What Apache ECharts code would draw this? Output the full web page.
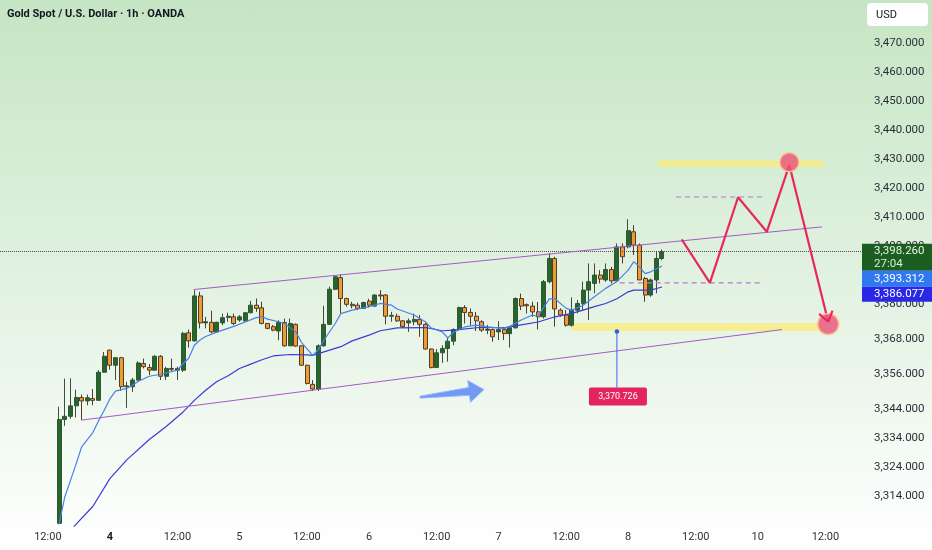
<!DOCTYPE html>
<html><head><meta charset="utf-8">
<script src="https://cdn.jsdelivr.net/npm/echarts@6/dist/echarts.min.js"></script>
<style>
html,body{margin:0;padding:0;}
body{width:932px;height:550px;overflow:hidden;background:linear-gradient(to bottom,#c6e5c4 0%,#d6edd5 30%,#e7f4e6 60%,#f6fbf6 85%,#ffffff 100%);}
#c{width:932px;height:550px;}
</style></head><body><div id="c"></div>
<script>
// ---------- time axis ----------
const categoryCount = 153;          // hourly slots shown on the time axis (incl. future space)
const candleOffset = 10;            // slot of the first candle
const xTickIndex = [8, 19, 31, 42, 54, 65, 77, 88, 100, 111, 123, 134, 146];
const xTickText  = ['12:00','4','12:00','5','12:00','6','12:00','7','12:00','8','12:00','10','12:00'];
const xTickBold  = [false,true,false,false,false,false,false,false,false,false,false,false,false];

// ---------- price axis ----------
const yTicks = [3470,3460,3450,3440,3430,3420,3410,3400,3380,3368,3356,3344,3334,3324,3314];

// ---------- candles (hourly) ----------
const opens = [3304.6,3340.4,3341.5,3345.1,3348.0,3346.8,3347.6,3347.0,3356.7,3364.3,
3359.1,3361.7,3351.7,3351.7,3354.0,3359.7,3358.3,3357.4,3362.2,3355.3,
3358.0,3357.4,3357.4,3370.3,3367.5,3383.0,3373.7,3373.9,3370.6,3373.7,
3375.6,3375.8,3374.7,3374.4,3377.2,3379.8,3378.9,3373.5,3372.4,3370.9,
3373.8,3365.8,3373.2,3365.8,3359.1,3352.5,3350.9,3365.8,3373.2,3385.3,
3389.3,3382.1,3380.1,3379.8,3378.7,3381.2,3379.5,3383.3,3383.3,3376.0,
3376.0,3374.4,3373.7,3374.1,3374.9,3373.2,3364.7,3358.3,3363.4,3364.9,
3367.4,3371.4,3379.0,3377.3,3376.0,3374.1,3371.2,3371.4,3370.6,3371.4,
3370.0,3372.0,3382.1,3380.0,3379.5,3377.5,3375.8,3387.9,3395.9,3378.1,
3376.4,3372.9,3378.1,3380.4,3385.0,3387.3,3390.2,3388.5,3392.1,3388.2,
3399.9,3399.9,3405.1,3400.5,3389.0,3383.3,3388.5,3395.9];
const closes = [3340.4,3341.5,3345.1,3348.0,3346.8,3347.9,3347.0,3356.7,3362.2,3359.1,
3361.7,3351.7,3352.0,3354.0,3359.9,3358.6,3357.4,3362.2,3355.3,3358.0,
3357.7,3358.0,3370.1,3367.5,3383.0,3373.7,3374.1,3370.6,3373.9,3375.5,
3376.0,3373.5,3375.8,3377.2,3379.8,3378.7,3373.5,3371.8,3371.2,3373.8,
3365.8,3373.5,3365.7,3359.1,3352.8,3350.9,3365.8,3373.2,3385.3,3389.6,
3382.1,3380.1,3379.6,3378.7,3380.7,3379.8,3383.3,3383.0,3376.0,3376.3,
3374.4,3372.4,3374.4,3374.9,3373.2,3364.7,3358.3,3363.4,3364.9,3367.4,
3371.4,3379.0,3377.3,3376.0,3374.4,3371.2,3371.6,3368.9,3371.4,3370.0,
3372.0,3382.1,3379.5,3379.6,3377.5,3375.8,3387.9,3395.9,3378.5,3376.4,
3372.9,3378.1,3380.4,3385.0,3387.9,3390.2,3388.8,3392.1,3388.2,3399.9,
3396.5,3405.5,3400.5,3388.5,3383.3,3388.5,3395.9,3398.26];
const lows = [3304.3,3338.2,3340.7,3341.1,3340.2,3345.3,3345.3,3347.0,3356.5,3357.6,
3354.0,3350.3,3344.4,3349.9,3353.7,3358.0,3355.7,3357.2,3354.0,3354.0,
3356.8,3354.0,3356.8,3365.2,3367.3,3371.8,3371.8,3370.1,3370.4,3372.9,
3374.1,3372.9,3374.1,3374.1,3377.0,3377.5,3373.2,3371.5,3370.8,3367.7,
3365.5,3365.7,3365.5,3358.9,3352.5,3350.2,3350.2,3365.5,3373.0,3385.0,
3377.0,3379.3,3378.7,3378.1,3378.5,3379.0,3379.2,3381.6,3373.2,3374.1,
3374.1,3372.1,3370.6,3372.9,3368.9,3364.5,3358.0,3358.3,3359.9,3360.3,
3366.0,3371.2,3373.5,3372.9,3370.9,3370.6,3369.8,3367.2,3367.8,3367.8,
3365.2,3371.8,3378.1,3376.9,3375.8,3371.4,3375.2,3387.3,3372.4,3375.8,
3372.4,3372.4,3377.0,3378.1,3374.7,3383.9,3387.3,3387.9,3387.3,3387.9,
3394.2,3399.4,3397.1,3388.5,3381.0,3382.7,3383.9,3395.3];
const highs = [3344.8,3354.5,3354.6,3350.7,3349.0,3349.0,3350.9,3357.4,3363.7,3364.5,
3361.9,3362.0,3353.4,3354.8,3360.5,3361.4,3359.5,3362.6,3362.6,3358.6,
3361.4,3358.6,3370.6,3371.4,3385.0,3384.4,3375.8,3377.9,3374.1,3376.9,
3377.2,3376.9,3376.4,3377.5,3381.3,3382.1,3381.0,3373.6,3373.0,3374.6,
3375.2,3375.2,3373.5,3366.0,3359.3,3354.0,3366.3,3379.6,3386.2,3390.2,
3390.4,3382.4,3381.0,3380.7,3381.0,3382.0,3383.6,3385.0,3383.6,3377.5,
3376.9,3374.7,3375.2,3376.9,3376.4,3373.7,3364.9,3364.7,3366.0,3368.7,
3371.8,3379.3,3379.8,3378.7,3377.5,3374.6,3373.0,3371.8,3374.3,3372.3,
3372.3,3382.5,3383.8,3380.4,3381.0,3380.9,3388.5,3397.7,3396.5,3378.7,
3378.1,3382.5,3381.6,3387.9,3394.2,3394.2,3391.9,3394.2,3393.0,3401.1,
3401.1,3409.4,3407.4,3401.1,3389.6,3389.0,3398.2,3399.0];

// ---------- moving averages (candle index -> price) ----------
const fastIdx = [0,1,3,4,6,7,8,9,10,12,13,14,16,18,21,22,23,24,25,26,28,31,33,35,36,37,39,40,42,43,45,46,47,49,50,52,55,57,59,60,63,65,66,68,69,70,72,74,76,79,80,82,84,85,87,88,90,91,93,95,97,99,101,102,103,104,105,107];
const fastVal = [3304.5,3313.7,3325,3331,3336,3340,3343.6,3347.5,3350.2,3351.1,3352.2,3353.5,3355.3,3356,3357.4,3359.7,3361.5,3366.0,3367.8,3369,3370.5,3372.5,3374,3375.5,3375.8,3375,3374.1,3373.5,3370.6,3367,3362.5,3364.5,3367.8,3373.5,3376.9,3378.1,3379.3,3380.4,3379.8,3378.5,3376.4,3374.1,3372,3370.6,3368.5,3370.5,3372.3,3372.9,3372.3,3371.8,3372.5,3374.7,3376.4,3376,3382,3382,3378.7,3378.1,3379.8,3382.7,3385.6,3388,3391.9,3394.8,3393.0,3390.7,3391.3,3393.312];
const slowIdx = [2.6,6,9,12,16,19,22,24,26,28,30,32,34,36,38,41,44,45,47,50,52,55,57,60,65,68,70,75,79,82,85,88,91,93,95,97,99,101,102,105,107];
const slowVal = [3303.5,3310.5,3320,3326.5,3333.5,3338,3343,3347,3350.5,3353.5,3355.5,3358,3359.5,3361,3362.3,3362.8,3362.7,3362.5,3363.7,3365.5,3367.5,3369.5,3371,3372,3372.1,3371,3371.2,3372.2,3372.0,3373,3374,3375.8,3377,3378.1,3379.3,3380.4,3382,3384.4,3385,3385,3386.077];

// ---------- drawings (candle index -> price) ----------
const channelUpperIdx = [23.9, 135.4], channelUpperVal = [3385.2, 3406.8];
const channelLowerIdx = [4, 128.3],    channelLowerVal = [3340.2, 3371.4];
const dashUpperIdx = [109.5, 124.9],   dashUpperVal = [3417.1, 3417.1];
const dashLowerIdx = [99.5, 124.9],    dashLowerVal = [3387.5, 3387.5];
const pathIdx = [110.5, 115.5, 120.5, 125.6, 129.6, 136.5];
const pathVal = [3402.5, 3387.5, 3417.0, 3405.1, 3428.1, 3374.1];
const zoneTopIdx = [106.3, 135.6],     zoneTopVal = [3429.7, 3427.5];
const zoneLowIdx = [91.0, 135.6],      zoneLowVal = [3373.6, 3370.9];
const circleIdx = [129.6, 136.5],      circleVal = [3429.1, 3373.3];
const arrowIdx = [64.05, 75.4],        arrowVal = [3348.1, 3350.7];
const markIdx = 99,                    markVal = 3370.726;
const lastPrice = 3398.26, fastLast = 3393.312, slowLast = 3386.077, countdown = '27:04';

// ---------- build ----------
const FONT = 'Roboto, "Liberation Sans", Arial, sans-serif';
const fmtPrice = v => Number(v).toLocaleString('en-US', {minimumFractionDigits:3, maximumFractionDigits:3});
const categories = Array.from({length: categoryCount}, (_, k) => String(k));
const tickMap = {};
xTickIndex.forEach((k, j) => { tickMap[k] = j; });
const candleData = categories.map((_, k) => {
  const i = k - candleOffset;
  if (i < 0 || i >= opens.length) return '-';
  return [opens[i], closes[i], lows[i], highs[i]];
});
const pairs = (idx, val) => idx.map((i, j) => [i + candleOffset, val[j]]);
const lineSeries = (idx, val, color, width, type, z) => ({
  type: 'line', xAxisIndex: 1, yAxisIndex: 0, data: pairs(idx, val), symbol: 'none',
  silent: true, z: z, lineStyle: {color: color, width: width, type: type || 'solid'}
});

const chart = echarts.init(document.getElementById('c'), null, {renderer: 'canvas'});

function renderZones(params, api) {
  const rect = (idx, val, fill) => {
    const a = api.coord([idx[0] + candleOffset, val[0]]);
    const b = api.coord([idx[1] + candleOffset, val[1]]);
    return {type: 'rect', shape: {x: a[0], y: a[1], width: b[0] - a[0], height: b[1] - a[1]}, style: {fill: fill}};
  };
  return {type: 'group', children: [
    rect(zoneTopIdx, zoneTopVal, 'rgba(248,236,128,0.85)'),
    rect(zoneLowIdx, zoneLowVal, 'rgba(248,236,128,0.85)')
  ]};
}

function renderOverlay(params, api) {
  const c = (i, v) => api.coord([i + candleOffset, v]);
  const ch = [];
  // blue arrow
  const t = c(arrowIdx[0], arrowVal[0]), h = c(arrowIdx[1], arrowVal[1]);
  let dx = h[0] - t[0], dy = h[1] - t[1];
  const L = Math.hypot(dx, dy); dx /= L; dy /= L;
  const nx = -dy, ny = dx, headLen = 15;
  const bx = h[0] - dx * headLen, by = h[1] - dy * headLen;
  ch.push({type: 'polygon', shape: {points: [
    [t[0] + nx * 1, t[1] + ny * 1], [bx + nx * 4, by + ny * 4], [bx + nx * 11, by + ny * 11],
    [h[0], h[1]], [bx - nx * 11, by - ny * 11], [bx - nx * 4, by - ny * 4], [t[0] - nx * 1, t[1] - ny * 1]
  ]}, style: {fill: 'rgba(92,138,242,0.85)', stroke: 'rgba(150,182,250,0.9)', lineWidth: 1}});
  // circles
  const r = [9.5, 10.5];
  circleIdx.forEach((i, j) => {
    const p = c(i, circleVal[j]);
    ch.push({type: 'circle', shape: {cx: p[0], cy: p[1], r: r[j]},
      style: {fill: 'rgba(236,84,124,0.82)', stroke: 'rgba(250,196,140,0.9)', lineWidth: 1.5}});
  });
  // arrow head on the projection path
  const n = pathIdx.length;
  const e = c(pathIdx[n - 1], pathVal[n - 1]), s = c(pathIdx[n - 2], pathVal[n - 2]);
  let ux = s[0] - e[0], uy = s[1] - e[1];
  const ul = Math.hypot(ux, uy); ux /= ul; uy /= ul;
  const ang = 35 * Math.PI / 180, wl = 12;
  [ang, -ang].forEach(a => {
    const wx = ux * Math.cos(a) - uy * Math.sin(a), wy = ux * Math.sin(a) + uy * Math.cos(a);
    ch.push({type: 'line', shape: {x1: e[0], y1: e[1], x2: e[0] + wx * wl, y2: e[1] + wy * wl},
      style: {stroke: '#e8285c', lineWidth: 2.2}});
  });
  // price marker
  const m = c(markIdx, markVal);
  const labTop = m[1] + 56;
  ch.push({type: 'line', shape: {x1: m[0], y1: m[1], x2: m[0], y2: labTop}, style: {stroke: '#3d63e8', lineWidth: 1}});
  ch.push({type: 'circle', shape: {cx: m[0], cy: m[1], r: 2.3}, style: {fill: '#2f5cf0'}});
  ch.push({type: 'rect', shape: {x: m[0] - 28, y: labTop, width: 58, height: 18, r: 2}, style: {fill: '#e3245e'}});
  ch.push({type: 'text', style: {text: fmtPrice(markVal), x: m[0] + 1, y: labTop + 9, fill: '#ffffff',
    font: '9px ' + FONT, align: 'center', verticalAlign: 'middle'}});
  return {type: 'group', children: ch};
}

chart.setOption({
  animation: false,
  backgroundColor: 'transparent',
  textStyle: {fontFamily: FONT},
  grid: {left: 0, right: 70, top: 0, height: 528},
  xAxis: [{
    type: 'category', data: categories, boundaryGap: true,
    axisLine: {show: false}, axisTick: {show: false}, splitLine: {show: false},
    axisLabel: {
      interval: idx => tickMap[idx] !== undefined,
      formatter: (val, idx) => {
        const j = tickMap[Number(val)];
        if (j === undefined) return '';
        return xTickBold[j] ? '{b|' + xTickText[j] + '}' : xTickText[j];
      },
      margin: 4, fontSize: 11, color: '#333', fontFamily: FONT,
      rich: {b: {fontWeight: 'bold', fontSize: 11, color: '#1a1a1a', fontFamily: FONT}}
    }
  }, {
    type: 'value', min: -0.5, max: categoryCount - 0.5, show: false
  }],
  yAxis: [{
    type: 'value', position: 'right', min: 3303, max: 3485, scale: true,
    axisLine: {show: false}, axisTick: {show: false}, splitLine: {show: false},
    axisLabel: {customValues: yTicks, formatter: v => fmtPrice(v), color: '#2b2f3a',
      fontSize: 11.5, margin: 12, align: 'left', fontFamily: FONT}
  }],
  series: [
    {type: 'custom', xAxisIndex: 1, yAxisIndex: 0, z: 1, silent: true, data: [[0, 3400]], renderItem: renderZones},
    {
      type: 'candlestick', xAxisIndex: 0, yAxisIndex: 0, data: candleData, barWidth: 4.5, z: 3, silent: true,
      itemStyle: {color: '#1f6a25', borderColor: '#3b4f3b', color0: '#f09a32', borderColor0: '#4d3d2c',
        borderColorDoji: '#4d4d4d', borderWidth: 1},
      markLine: {symbol: 'none', silent: true, label: {show: false},
        lineStyle: {type: 'dotted', color: '#4a4a4a', width: 1},
        data: [{yAxis: lastPrice}]}
    },
    lineSeries(slowIdx, slowVal, '#3a3bd6', 1.2, 'solid', 4),
    lineSeries(fastIdx, fastVal, '#4a80e8', 1.2, 'solid', 4),
    lineSeries(channelUpperIdx, channelUpperVal, '#a55ac6', 1, 'solid', 5),
    lineSeries(channelLowerIdx, channelLowerVal, '#a55ac6', 1, 'solid', 5),
    lineSeries(dashUpperIdx, dashUpperVal, '#b676cc', 1.2, [5, 4], 5),
    lineSeries(dashLowerIdx, dashLowerVal, '#b676cc', 1.2, [5, 4], 5),
    lineSeries(pathIdx, pathVal, '#e8285c', 2.2, 'solid', 6),
    {type: 'custom', xAxisIndex: 1, yAxisIndex: 0, z: 7, silent: true, data: [[0, 3400]], renderItem: renderOverlay}
  ]
});

// right-side price tags and header
const yOf = v => chart.convertToPixel({yAxisIndex: 0}, v);
const gx = 862, tx = 874;
const gTop = yOf(lastPrice) - 8, gH = 27;
const bTop = Math.max(yOf(fastLast) - 7.5, gTop + gH), bH = 16;
const dTop = Math.max(yOf(slowLast) - 7.5, bTop + bH), dH = 15;
const tagFont = '11.5px ' + FONT;
chart.setOption({
  graphic: [
    {type: 'text', left: 7, top: 9, z: 100, style: {text: 'Gold Spot / U.S. Dollar · 1h · OANDA', fill: '#131722',
      font: 'bold 11px ' + FONT}},
    {type: 'rect', shape: {x: 867, y: 3, width: 61, height: 23, r: 4}, style: {fill: '#ffffff'}, z: 100},
    {type: 'text', x: 876, y: 15, z: 101, style: {text: 'USD', fill: '#131722', font: '11px ' + FONT, verticalAlign: 'middle'}},
    {type: 'rect', shape: {x: gx, y: gTop, width: 70, height: gH}, style: {fill: '#1c5e22'}, z: 100},
    {type: 'text', x: tx, y: gTop + 7.5, z: 101, style: {text: fmtPrice(lastPrice), fill: '#e4f3e4', font: tagFont, verticalAlign: 'middle'}},
    {type: 'text', x: tx, y: gTop + 20, z: 101, style: {text: countdown, fill: '#d6ecd6', font: tagFont, verticalAlign: 'middle'}},
    {type: 'rect', shape: {x: gx, y: bTop, width: 70, height: bH}, style: {fill: '#2f78f2'}, z: 100},
    {type: 'text', x: tx, y: bTop + bH / 2, z: 101, style: {text: fmtPrice(fastLast), fill: '#ffffff', font: tagFont, verticalAlign: 'middle'}},
    {type: 'rect', shape: {x: gx, y: dTop, width: 70, height: dH}, style: {fill: '#2a28e6'}, z: 100},
    {type: 'text', x: tx, y: dTop + dH / 2, z: 101, style: {text: fmtPrice(slowLast), fill: '#ffffff', font: tagFont, verticalAlign: 'middle'}}
  ]
});
</script>
</body></html>
